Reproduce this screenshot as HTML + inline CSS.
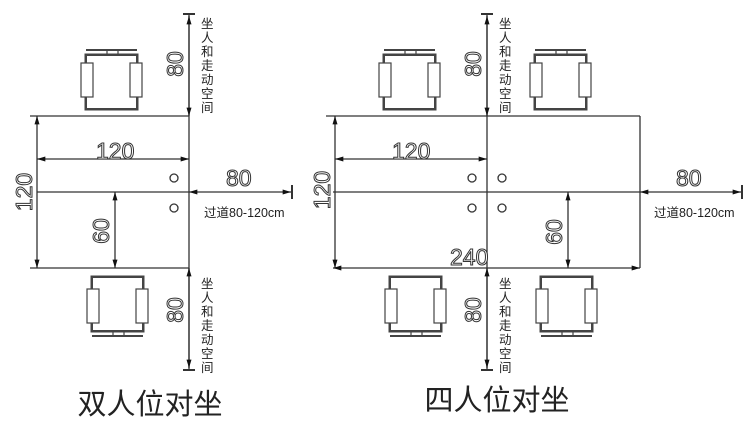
<!DOCTYPE html>
<html><head><meta charset="utf-8"><style>
html,body{margin:0;padding:0;background:#fff;width:750px;height:424px;overflow:hidden}
svg{display:block}
.n{font-family:"Liberation Sans",sans-serif;font-size:23px;fill:#fff;stroke:#333;stroke-width:1}
.c{font-family:"Liberation Sans","Noto Sans CJK SC",sans-serif;fill:#222}
</style></head><body>
<svg width="750" height="424" viewBox="0 0 750 424" xmlns="http://www.w3.org/2000/svg">
<defs>
<marker id="a" viewBox="0 0 10 6" refX="10" refY="3" markerWidth="14" markerHeight="5" markerUnits="userSpaceOnUse" orient="auto-start-reverse"><path d="M0,0L10,3L0,6z" fill="#111"/></marker>
<g id="ch" fill="none" stroke="#444">
<line x1="0" y1="0" x2="51" y2="0" stroke-width="2"/>
<rect x="21" y="0" width="11" height="5" stroke-width="1.2"/>
<rect x="0" y="5" width="51" height="54" stroke-width="3"/>
<rect x="1.5" y="6.5" width="48" height="51" stroke="#fff" stroke-width="1"/>
<rect x="-5" y="13" width="12" height="34" fill="#fff" stroke-width="1.2"/>
<rect x="44" y="13" width="12" height="34" fill="#fff" stroke-width="1.2"/>
</g>
<g id="txt" class="c" font-size="12.5">
<text x="0" y="0">坐</text><text x="0" y="14">人</text><text x="0" y="28">和</text><text x="0" y="42">走</text><text x="0" y="56">动</text><text x="0" y="70">空</text><text x="0" y="84">间</text>
</g>
</defs>
<g stroke="#333" stroke-width="1.3" fill="none">
<!-- LEFT -->
<line x1="30" y1="116" x2="189" y2="116"/>
<line x1="30" y1="268" x2="189" y2="268"/>
<line x1="37" y1="192" x2="189" y2="192"/>
<line x1="189" y1="14" x2="189" y2="370"/>
<line x1="183" y1="14" x2="195" y2="14" stroke-width="2"/>
<line x1="183" y1="370" x2="195" y2="370" stroke-width="2"/>
<line x1="189" y1="16" x2="189" y2="116" marker-start="url(#a)" marker-end="url(#a)"/>
<line x1="189" y1="268" x2="189" y2="368" marker-start="url(#a)" marker-end="url(#a)"/>
<line x1="37" y1="116" x2="37" y2="268" marker-start="url(#a)" marker-end="url(#a)"/>
<line x1="37" y1="159" x2="189" y2="159" marker-start="url(#a)" marker-end="url(#a)"/>
<line x1="115" y1="192" x2="115" y2="268" marker-start="url(#a)" marker-end="url(#a)"/>
<line x1="189" y1="192" x2="291" y2="192" marker-start="url(#a)" marker-end="url(#a)"/>
<line x1="292" y1="185" x2="292" y2="199" stroke-width="2"/>
<circle cx="174" cy="178" r="4"/><circle cx="174" cy="208" r="4"/>
<!-- RIGHT -->
<line x1="326" y1="116" x2="640" y2="116"/>
<line x1="640" y1="116" x2="640" y2="268"/>
<line x1="333" y1="192" x2="640" y2="192"/>
<line x1="487" y1="14" x2="487" y2="370"/>
<line x1="481" y1="14" x2="493" y2="14" stroke-width="2"/>
<line x1="481" y1="370" x2="493" y2="370" stroke-width="2"/>
<line x1="487" y1="16" x2="487" y2="116" marker-start="url(#a)" marker-end="url(#a)"/>
<line x1="487" y1="268" x2="487" y2="368" marker-start="url(#a)" marker-end="url(#a)"/>
<line x1="335" y1="116" x2="335" y2="268" marker-start="url(#a)" marker-end="url(#a)"/>
<line x1="335" y1="159" x2="487" y2="159" marker-start="url(#a)" marker-end="url(#a)"/>
<line x1="333" y1="268" x2="640" y2="268" marker-start="url(#a)" marker-end="url(#a)"/>
<line x1="568" y1="192" x2="568" y2="268" marker-start="url(#a)" marker-end="url(#a)"/>
<line x1="640" y1="192" x2="741" y2="192" marker-start="url(#a)" marker-end="url(#a)"/>
<line x1="742" y1="185" x2="742" y2="199" stroke-width="2"/>
<circle cx="472" cy="178" r="4"/><circle cx="472" cy="208" r="4"/>
<circle cx="502" cy="178" r="4"/><circle cx="502" cy="208" r="4"/>
</g>
<!-- chairs -->
<use href="#ch" x="86" y="50"/>
<use href="#ch" x="384" y="50"/>
<use href="#ch" x="535" y="50"/>
<use href="#ch" transform="translate(92,336) scale(1,-1)"/>
<use href="#ch" transform="translate(390,336) scale(1,-1)"/>
<use href="#ch" transform="translate(541,336) scale(1,-1)"/>
<!-- numbers -->
<text class="n" x="96" y="159">120</text>
<text class="n" x="226" y="186">80</text>
<text class="n" transform="translate(32,192) rotate(-90)" text-anchor="middle">120</text>
<text class="n" transform="translate(109,231) rotate(-90)" text-anchor="middle">60</text>
<text class="n" transform="translate(183,64) rotate(-90)" text-anchor="middle">80</text>
<text class="n" transform="translate(183,310) rotate(-90)" text-anchor="middle">80</text>
<text class="n" x="392" y="159">120</text>
<text class="n" x="676" y="186">80</text>
<text class="n" x="450" y="265">240</text>
<text class="n" transform="translate(330,190) rotate(-90)" text-anchor="middle">120</text>
<text class="n" transform="translate(562,232) rotate(-90)" text-anchor="middle">60</text>
<text class="n" transform="translate(481,64) rotate(-90)" text-anchor="middle">80</text>
<text class="n" transform="translate(481,310) rotate(-90)" text-anchor="middle">80</text>
<!-- chinese -->
<use href="#txt" x="201" y="28"/>
<use href="#txt" x="201" y="288"/>
<use href="#txt" x="499" y="28"/>
<use href="#txt" x="499" y="288"/>
<text class="c" x="204" y="217" font-size="12.5">过道80-120cm</text>
<text class="c" x="654" y="217" font-size="12.5">过道80-120cm</text>
<text class="c" x="150" y="414" font-size="29" text-anchor="middle">双人位对坐</text>
<text class="c" x="497" y="410" font-size="29" text-anchor="middle">四人位对坐</text>
</svg>
</body></html>
